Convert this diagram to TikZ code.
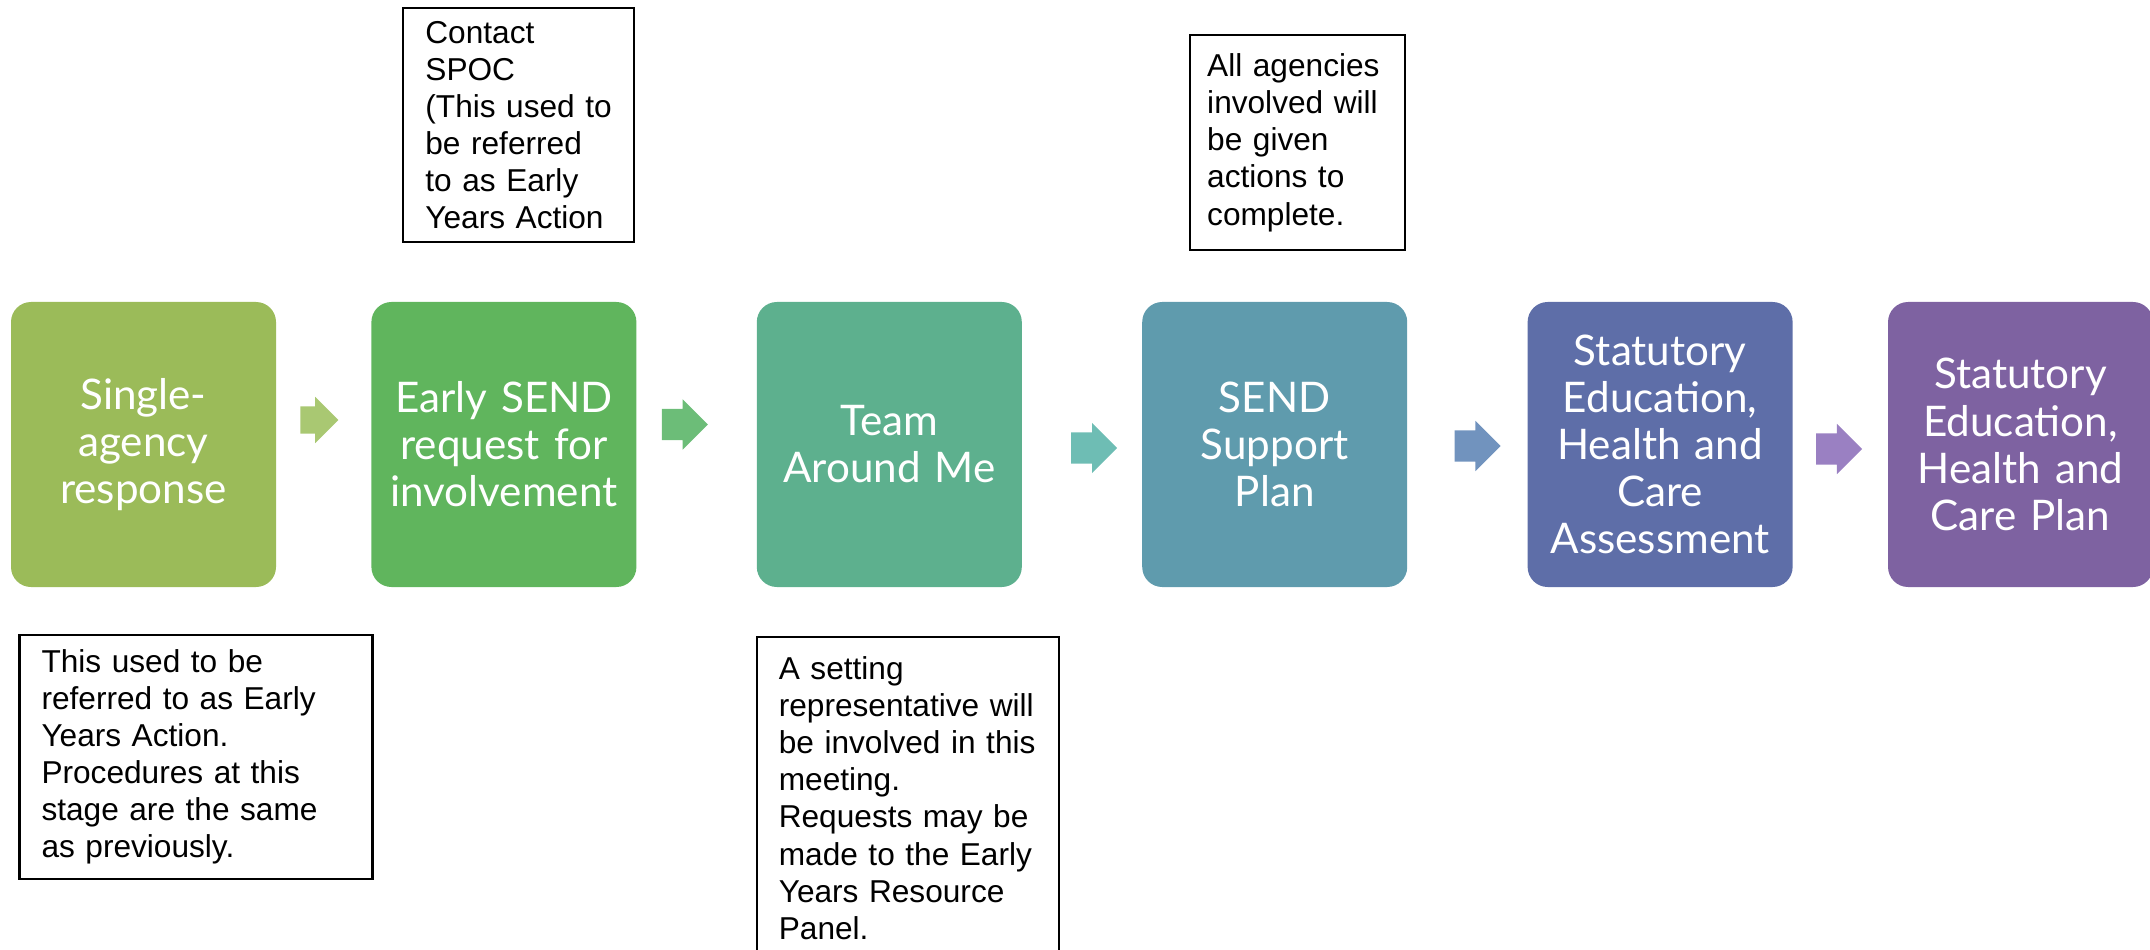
\documentclass[tikz,border=0pt]{standalone}
\usepackage{fontspec}
\setmainfont{Liberation Sans}
\newfontfamily\stagefont{Lato}
\usetikzlibrary{positioning,shapes.arrows}

\definecolor{stageA}{HTML}{9BBB59}
\definecolor{stageB}{HTML}{60B55D}
\definecolor{stageC}{HTML}{5DB08E}
\definecolor{stageD}{HTML}{5F9BAD}
\definecolor{stageE}{HTML}{5E6EA8}
\definecolor{stageF}{HTML}{7E62A1}
\definecolor{nextA}{HTML}{A9C872}
\definecolor{nextB}{HTML}{6CBD78}
\definecolor{nextC}{HTML}{6EBDB4}
\definecolor{nextD}{HTML}{7193BE}
\definecolor{nextE}{HTML}{9A80C2}

\begin{document}
\begin{tikzpicture}[
    stage/.style={rounded corners=0.2cm, minimum width=2.65cm, minimum height=2.85cm,
        text width=2.6cm, align=center, inner sep=0pt, text=white,
        font=\stagefont\fontsize{12}{13.4}\selectfont},
    note/.style={draw, line width=0.6pt, align=left, inner xsep=0.22cm, inner ysep=0.12cm,
        font=\fontsize{9}{10.55}\selectfont},
    nextstep/.style={single arrow, single arrow head extend=0.095cm, inner xsep=0pt,
        inner ysep=0.15cm, minimum width=0.49cm, minimum height=0.46cm},
]
    \useasboundingbox (0,0) rectangle (21.5,9.49);

    \node [stage, fill=stageA] (a) at (1.435,5.045) {Single-\\agency\\response};
    \node [stage, fill=stageB, right=0.94cm of a] (b) {Early SEND\\request for\\involvement};
    \node [stage, fill=stageC, right=1.19cm of b] (c) {Team\\Around Me};
    \node [stage, fill=stageD, right=1.19cm of c] (d) {SEND\\Support\\Plan};
    \node [stage, fill=stageE, right=1.19cm of d] (e) {Statutory\\Education,\\Health and\\Care\\Assessment};
    \node [stage, fill=stageF, right=0.94cm of e] (f) {Statutory\\Education,\\Health and\\Care Plan};

    \node [nextstep, fill=nextA, right=0.23cm of a, yshift=0.245cm, inner ysep=0.13cm,
        minimum width=0.43cm, minimum height=0.38cm] (ab) {};
    \node [nextstep, fill=nextB, right=0.24cm of b, yshift=0.2cm] (bc) {};
    \node [nextstep, fill=nextC, right=0.48cm of c, yshift=-0.035cm] (cd) {};
    \node [nextstep, fill=nextD, right=0.46cm of d, yshift=-0.015cm] (de) {};
    \node [nextstep, fill=nextE, right=0.22cm of e, yshift=-0.045cm] (ef) {};

    \node [note, above=0.58cm of b, xshift=0.15cm, text width=1.87cm, minimum height=2.34cm] (spoc)
        {Contact\\SPOC\\(This used to\\be referred\\to as Early\\Years Action};
    \node [note, above=0.5cm of d, xshift=0.225cm, text width=1.8cm, inner xsep=0.175cm,
        minimum height=2.15cm] (agencies)
        {All agencies\\involved will\\be given\\actions to\\complete.};
    \node [note, below=0.46cm of a, xshift=0.525cm, text width=3.09cm, minimum height=2.44cm] (single)
        {This used to be\\referred to as Early\\Years Action.\\Procedures at this\\stage are the same\\as previously.};
    \node [note, below=0.48cm of c, xshift=0.185cm, text width=2.58cm, inner ysep=0.2cm] (meeting)
        {A setting\\representative will\\be involved in this\\meeting.\\Requests may be\\made to the Early\\Years Resource\\Panel.};
\end{tikzpicture}
\end{document}
